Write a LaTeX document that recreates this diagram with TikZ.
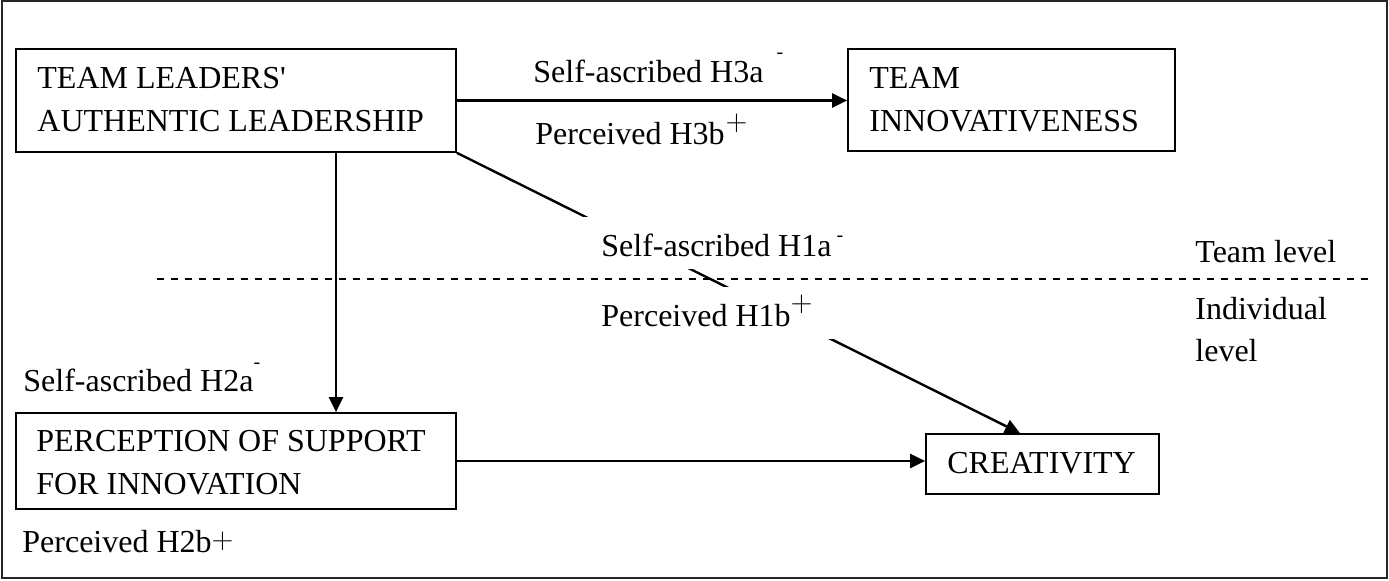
\documentclass[tikz,border=0pt]{standalone}
\usepackage{fontspec}
\setmainfont{Liberation Serif}
\newfontfamily\quotefont{Liberation Serif}
\usetikzlibrary{arrows.meta}
\newcommand\hsup[3]{\hspace{#1}\raisebox{#2}{#3}}
\newcommand\mneg{{\fontsize{10}{10}\selectfont -}}
\newcommand\mpos{{\fontsize{14}{14}\selectfont$+$}}
\begin{document}
\begin{tikzpicture}[x=0.5pt,y=-0.5pt,
  font=\fontsize{16}{21.5}\selectfont,
  box/.style={draw, line width=0.85pt, inner sep=0pt},
  txt/.style={anchor=base west, inner sep=0pt, align=left},
  lab/.style={anchor=base west, inner sep=0pt},
  cover/.style={anchor=base west, fill=white, inner xsep=14pt, inner ysep=0pt, text height=20pt, text depth=6pt},
  arr/.style={line width=1.2pt, -{Triangle[length=7.5pt,width=7pt]}},
  level/.style={line width=1pt, dash pattern=on 3.6pt off 3.4pt}]
\useasboundingbox (0,0) rectangle (1389,581);
\draw[line width=1pt, black!85] (1.5,1.5) rectangle (1387,578);

% boxes
\node[box, minimum width=220pt, minimum height=51.5pt] (A) at (236,100.5) {};
\node[box, minimum width=163.5pt, minimum height=51pt] (B) at (1011.5,100) {};
\node[box, minimum width=220pt, minimum height=48pt] (C) at (236,461) {};
\node[box, minimum width=116.5pt, minimum height=30pt] (D) at (1042.5,464) {};

% box texts (base = last line)
\node[txt] (At) at (37,132) {TEAM LEADERS{\quotefont '}\\AUTHENTIC LEADERSHIP};
\node[txt] (Bt) at (869,132) {TEAM\\INNOVATIVENESS};
\node[txt] (Ct) at (36,495) {PERCEPTION OF SUPPORT\\FOR INNOVATION};
\node[txt] (Dt) at (947,474) {CREATIVITY};

% level separator
\coordinate (L1) at (157,279);
\coordinate (L2) at (1368,279);
\draw[level] (L1) -- (L2);
\node[lab] (tl) at (1195,263) {Team level};
\node[txt, font=\fontsize{16}{21}\selectfont] (il) at (1195,362) {Individual\\level};

% connectors
\draw[arr] (A.east) -- (A.east -| B.west);
\draw[arr] ([xshift=50pt]A.south) -- ([xshift=50pt]C.north);
\draw[arr] (C.east) -- (C.east -| D.west);
\draw[arr] (A.south east) -- ([xshift=-11.25pt]D.north);

% labels
\node[lab] (h3a) at (533,83) {Self-ascribed H3a\hsup{6.5pt}{12pt}{\mneg}};
\node[lab] (h3b) at (535,145) {Perceived H3b\hsup{0.5pt}{7pt}{\mpos}};
\node[cover] (h1a) at (573,257) {Self-ascribed H1a\hsup{2.5pt}{7.9pt}{\mneg}};
\node[cover] (h1b) at (573,327) {Perceived H1b\hsup{0pt}{7.5pt}{\mpos}};
\node[lab] (h2a) at (23,392) {Self-ascribed H2a\hsup{0pt}{11.9pt}{\mneg}};
\node[lab] (h2b) at (22,553) {Perceived H2b\hsup{0pt}{2pt}{\mpos}};
\end{tikzpicture}
\end{document}
